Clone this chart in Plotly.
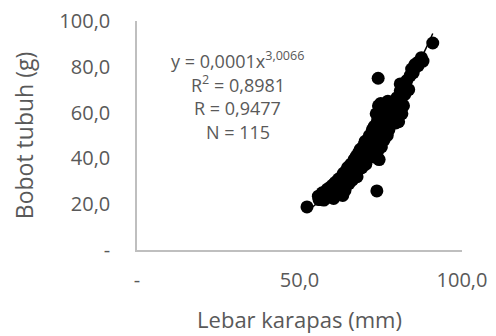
import numpy as np
import plotly.graph_objects as go

lebar_karapas = [52.3, 56.0, 55.8, 56.5, 57.0, 57.5, 58.0, 58.5, 59.0, 59.5,
                 60.0, 60.3, 60.8, 61.0, 63.3, 61.8, 62.0, 62.3, 62.7, 63.0,
                 63.2, 63.5, 63.8, 64.0, 64.3, 64.5, 64.8, 65.0, 65.2, 65.5,
                 65.8, 66.0, 66.2, 66.5, 66.8, 67.0, 67.2, 67.5, 67.7, 68.0,
                 68.2, 68.5, 68.7, 69.0, 69.2, 69.5, 69.7, 70.0, 70.2, 70.4,
                 70.6, 71.5, 71.0, 71.2, 72.4, 71.6, 71.8, 73.0, 72.2, 72.4,
                 74.0, 72.8, 73.0, 73.2, 73.4, 73.6, 73.8, 74.0, 74.2, 74.3,
                 74.5, 74.7, 74.9, 75.0, 75.2, 75.4, 75.6, 75.8, 76.0, 76.2,
                 76.4, 74.0, 76.8, 77.0, 77.2, 77.5, 77.8, 78.0, 78.3, 76.0,
                 79.0, 80.0, 79.6, 81.0, 81.0, 80.5, 81.0, 81.3, 81.6, 81.5,
                 82.0, 82.4, 83.0, 83.6, 84.0, 84.5, 85.0, 85.5, 86.5, 87.5,
                 88.0, 86.5, 91.0, 64.0, 60.5]
bobot_tubuh = [18.8, 22.0, 23.5, 22.0, 25.0, 21.8, 24.0, 26.5, 23.0, 27.5,
               24.5, 28.5, 25.5, 29.5, 23.8, 27.0, 31.0, 28.0, 25.5, 32.0,
               29.0, 33.5, 27.5, 30.5, 34.5, 31.0, 36.0, 32.0, 29.0, 34.0,
               37.5, 33.0, 30.5, 35.5, 39.5, 34.0, 37.0, 41.0, 32.0, 37.5,
               42.5, 35.5, 44.0, 39.0, 36.0, 41.5, 45.5, 40.0, 47.5, 37.5,
               43.0, 50.0, 41.0, 45.0, 52.5, 42.5, 47.0, 54.0, 44.0, 49.0,
               56.5, 46.5, 52.5, 40.5, 48.5, 59.5, 25.8, 50.5, 75.0, 63.0,
               39.5, 54.0, 59.5, 64.0, 45.0, 55.5, 61.5, 51.5, 58.0, 63.0,
               54.0, 43.0, 60.5, 50.0, 65.0, 52.5, 62.0, 58.5, 64.5, 48.0,
               61.0, 66.5, 55.5, 69.5, 72.5, 56.0, 60.5, 66.0, 71.5, 59.5,
               63.0, 68.0, 74.0, 70.0, 76.0, 79.0, 77.5, 81.0, 82.0, 84.0,
               82.5, 80.5, 90.4, 26.0, 22.5]

x_tickvals = [0, 50, 100]
x_ticktext = ["-", "50,0", "100,0"]
y_tickvals = [0, 20, 40, 60, 80, 100]
y_ticktext = ["-", "20,0", "40,0", "60,0", "80,0", "100,0"]
stats_lines = ["y = 0,0001x<sup>3,0066</sup>", "R<sup>2</sup> = 0,8981",
               "R = 0,9477", "N = 115"]

# power trendline fitted in log space (as Excel does)
xs = np.array(lebar_karapas)
ys = np.array(bobot_tubuh)
b, ln_a = np.polyfit(np.log(xs), np.log(ys), 1)
xf = np.linspace(xs.min(), xs.max(), 100)
yf = np.exp(ln_a) * xf ** b

FONT = "Open Sans"
GRAY = "#595959"

fig = go.Figure()
fig.add_trace(go.Scatter(x=lebar_karapas, y=bobot_tubuh, mode="markers",
                         marker=dict(color="black", size=13, line=dict(width=0)),
                         showlegend=False))
fig.add_trace(go.Scatter(x=xf, y=yf, mode="lines",
                         line=dict(color="black", width=1.5),
                         showlegend=False))

ann_y = [0.830, 0.725, 0.620, 0.515]
for txt, yy in zip(stats_lines, ann_y):
    fig.add_annotation(text=txt, xref="paper", yref="paper", x=0.31, y=yy,
                       xanchor="center", yanchor="middle", showarrow=False,
                       font=dict(family=FONT, size=18, color=GRAY))

fig.update_layout(
    width=488, height=328,
    margin=dict(l=129, r=34, t=13, b=86),
    paper_bgcolor="white", plot_bgcolor="white",
    font=dict(family=FONT, color=GRAY),
    xaxis=dict(range=[0, 100], tickvals=x_tickvals, ticktext=x_ticktext,
               showgrid=False, zeroline=False, showline=True,
               linecolor="#bfbfbf", linewidth=1.5,
               ticks="outside", ticklen=11, tickcolor="rgba(0,0,0,0)",
               tickfont=dict(family=FONT, size=20, color=GRAY),
               ticklabeloverflow="allow",
               title=dict(text="Lebar karapas (mm)", standoff=21,
                          font=dict(family=FONT, size=22, color=GRAY)),
               automargin=False),
    yaxis=dict(range=[0, 100], tickvals=y_tickvals, ticktext=y_ticktext,
               showgrid=False, zeroline=False, showline=True,
               linecolor="#bfbfbf", linewidth=1.5,
               ticks="outside", ticklen=21, tickcolor="rgba(0,0,0,0)",
               tickfont=dict(family=FONT, size=20, color=GRAY),
               ticklabeloverflow="allow",
               title=dict(text="Bobot tubuh (g)", standoff=30,
                          font=dict(family=FONT, size=23, color=GRAY)),
               automargin=False),
)

fig.write_html("out.html")
